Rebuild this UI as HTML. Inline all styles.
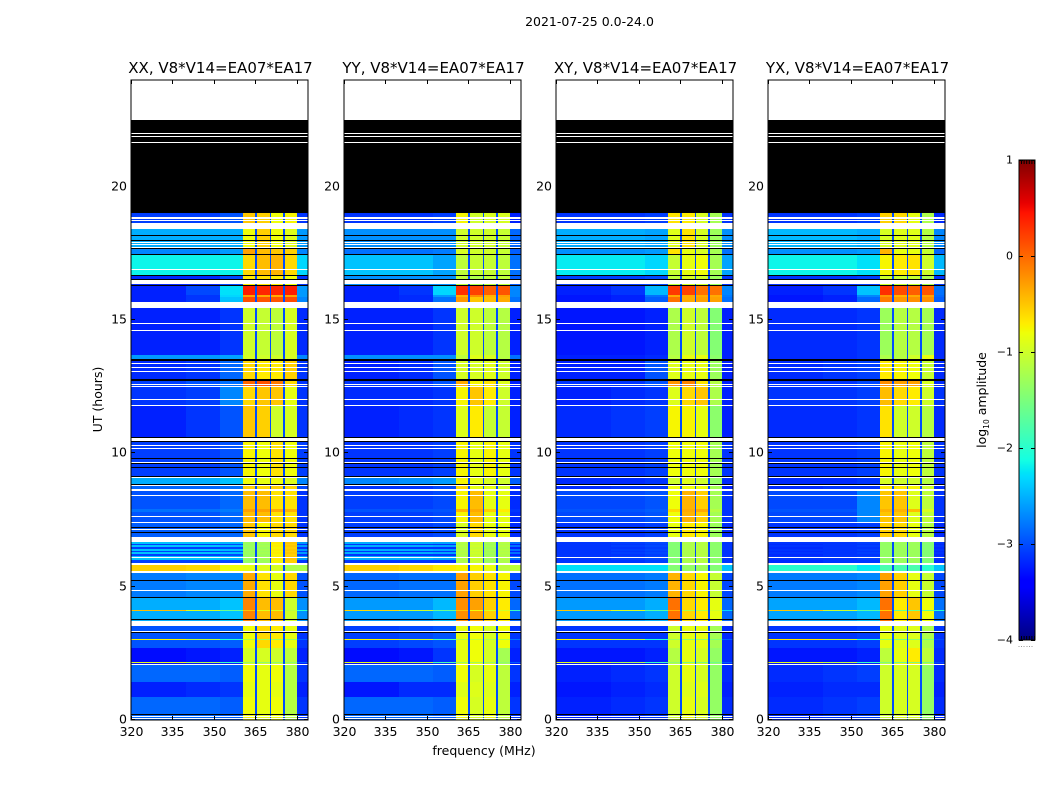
<!DOCTYPE html>
<html lang="en">
<head>
<meta charset="utf-8">
<title>2021-07-25 dynamic spectra</title>
<style>
html,body{margin:0;padding:0;background:#fff;}
#chart{display:block;width:1050px;height:800px;font-family:"DejaVu Sans","Liberation Sans",sans-serif;fill:#000;}
</style>
</head>
<body>
<svg id="chart" xmlns="http://www.w3.org/2000/svg" width="1050" height="800" viewBox="0 0 1050 800">
  <rect width="1050" height="800" fill="#fff"/>
  <text x="589.5" y="26" font-size="12.5" text-anchor="middle">2021-07-25 0.0-24.0</text>
  <text x="484" y="755" font-size="12.5" text-anchor="middle">frequency (MHz)</text>
  <text transform="translate(102,399.5) rotate(-90)" font-size="12.5" text-anchor="middle">UT (hours)</text>
  <g id="panels"></g>
  <g id="colorbar"></g>
  <text transform="translate(986,400) rotate(-90)" font-size="12.5" text-anchor="middle">log<tspan font-size="7.5" dy="3">10</tspan><tspan dy="-3"> amplitude</tspan></text>
</svg>
<script>
// ---- Data (log10 amplitude, hours, MHz) ----
const panelTitles = ['XX, V8*V14=EA07*EA17','YY, V8*V14=EA07*EA17','XY, V8*V14=EA07*EA17','YX, V8*V14=EA07*EA17'];
const xTickLabels = [320,335,350,365,380];
const yTickLabels = [0,5,10,15,20];
const colorbarTicks = [1,0,-1,-2,-3,-4];
const freqEdges = [320,340,352,360.5,364.8,365.4,370.1,370.7,375,375.6,380,384];
const gapLevel = -3;
const backgroundBias = -0.12;
const rowTopHours = [24,22.5,22.01,21.975,21.9,21.86,21.675,21.64,19.01,18.86,18.79,18.75,18.71,18.64,18.41,18.19,18.15,18,17.96,17.925,17.89,17.85,17.81,17.74,17.7,17.66,17.475,17.44,16.91,16.875,16.69,16.65,16.54,16.5,16.35,16.31,16.275,15.94,15.86,15.675,15.45,14.89,14.85,14.625,14.59,13.69,13.54,13.46,13.39,13.35,13.24,13.2,13.09,13.05,12.79,12.71,12.6,12.56,12.525,12.49,12.04,12,11.81,11.775,10.61,10.575,10.46,10.425,10.31,10.275,10.2,10.16,9.825,9.79,9.675,9.64,9.6,9.49,9.45,9.15,9.11,9.075,8.85,8.81,8.775,8.66,8.59,8.44,8.4,7.91,7.8,7.65,7.61,7.425,7.39,7.24,7.2,7.16,7.125,7.05,7.01,6.86,6.675,6.6,6.56,6.49,6.41,6.34,6.3,6.225,6.15,6.11,6.075,6,5.89,5.81,5.59,5.51,5.25,5.21,4.875,4.84,4.61,4.575,4.125,4.09,3.79,3.75,3.71,3.525,3.34,3.3,3.26,3.04,3,2.7,2.175,2.14,2.1,2.06,1.425,0.86,0.225,0.19,0.15,0.11,0.075,0.04];
const rowClasses = ['W','K','W','K','W','K','W','K','a','W','a','W','a','W','b','K','b','K','b','W','b','W','b','W','K','c','K','d','W','d','K','e','K','W','e','K','f1','f2','f3','W','g','W','g','W','g','h','K','i','W','i','W','i','W','i','K','j','W','j','W','k','W','k','W','m','K','W','K','n','W','n','W','n','K','n','W','K','n','K','n','K','W','o','K','W','p','W','q','W','q','q2','q','W','q','W','r','K','r','W','r','K','r','W','s1','s2','s1','s2','s1','s2','s1','s2','s1','W','s1','s2','W','t','W','u','K','u','W','u','K','v','hot','v','K','v','W','x','W','K','x','hot2','x','y','hot3','y','W','z1','z2','z1','K','z1','W','z1','W','z1'];
// each class: [bg 320-340, bg 340-352, bg 352-360, block A, block B, block C, block D, bg 380-384]
const levelsXX = {a:[-2.95,-2.95,-2.85,-0.5,-0.55,-0.8,-0.75,-3],b:[-2.4,-2.4,-2.4,-0.8,-0.55,-0.8,-0.9,-2.5],c:[-2.6,-2.6,-2.5,-0.3,-0.45,-0.5,-0.55,-2.6],d:[-2.05,-2.05,-2.05,-0.6,-0.45,-0.4,-0.6,-2.2],e:[-3.05,-3.05,-2.9,-0.7,-0.65,-0.7,-0.8,-3],f1:[-3.1,-2.9,-2.15,0.4,0.35,0.35,0.4,-2.5],f2:[-3.1,-3,-2.2,-0.3,-0.35,-0.35,-0.3,-2.5],f3:[-3.1,-3,-2.3,0.15,0.1,0.1,0.15,-2.6],g:[-3.1,-3.1,-3,-1,-1.05,-1.1,-0.95,-3.05],h:[-2.5,-2.5,-2.45,-0.95,-1,-1,-0.95,-2.6],i:[-3.05,-3,-2.75,-0.6,-0.7,-0.7,-0.55,-3],j:[-2.95,-2.85,-2.7,0,0.1,-0.1,-0.6,-3],k:[-3,-2.95,-2.6,-0.6,-0.5,-0.5,-0.85,-3],m:[-3.1,-3,-2.85,-0.5,-0.55,-1,-0.95,-3],n:[-2.95,-2.95,-2.85,-0.75,-0.8,-0.65,-0.8,-2.95],o:[-2.4,-2.4,-2.3,-0.8,-0.85,-0.8,-0.9,-2.6],p:[-2.75,-2.75,-2.7,-0.55,-0.6,-0.55,-0.6,-2.9],q:[-2.85,-2.85,-2.75,-0.45,-0.45,-0.65,-0.65,-3],q2:[-2.7,-2.7,-2.65,-0.3,-0.3,-0.35,-0.4,-3],r:[-2.8,-2.8,-2.75,-0.5,-0.75,-0.6,-0.6,-3],s1:[-2.3,-2.3,-2.35,-1.3,-1.25,-0.7,-0.5,-2.5],s2:[-2.95,-2.95,-2.9,-1.35,-1.3,-0.75,-0.55,-3],t:[-0.55,-0.6,-0.8,-0.85,-0.9,-0.95,-1.2,-1.2],u:[-2.65,-2.6,-2.6,-0.35,-0.65,-0.85,-0.6,-2.85],v:[-2.4,-2.4,-2.3,-0.15,-0.45,-0.45,-1,-2.55],hot:[-0.45,-0.9,-1.6,-0.5,-0.9,-0.9,-1.1,-2],x:[-2.85,-2.85,-2.8,-0.8,-0.6,-0.7,-0.85,-3],hot2:[-0.75,-1.1,-2,-1.2,-1.3,-1.3,-1.3,-2.8],y:[-3.2,-3.15,-3.1,-0.95,-0.95,-1,-1.1,-3.1],hot3:[-0.9,-1.2,-1.9,-1.3,-1.4,-1.4,-1.4,-2.8],z1:[-2.75,-2.75,-2.8,-0.8,-0.85,-0.8,-1.15,-3],z2:[-3.1,-3.05,-3,-0.85,-0.85,-0.85,-1.15,-3.1]};
const levelsYY = {a:[-3,-3,-2.95,-0.75,-1,-0.95,-0.95,-3.1],b:[-2.55,-2.55,-2.55,-1,-1,-1,-1.05,-2.75],c:[-2.7,-2.7,-2.65,-0.95,-1,-1,-1.05,-2.8],d:[-2.3,-2.3,-2.45,-1.1,-1.05,-1.05,-1.1,-2.7],e:[-2.55,-2.55,-2.55,-1.1,-1.2,-1.1,-1.1,-2.8],f1:[-3.1,-3,-2.2,0.3,0.2,0.05,0.1,-2.6],f2:[-3.1,-3.05,-2.5,-0.4,-0.2,-0.4,-0.3,-2.6],f3:[-3.1,-3.05,-2.7,-0.25,-0.5,-0.45,-0.35,-2.7],g:[-3.1,-3.1,-3,-1,-1,-1.1,-1.15,-3.1],h:[-2.55,-2.55,-2.55,-1.1,-0.9,-0.95,-1.15,-2.7],i:[-3.1,-3.05,-2.85,-0.95,-0.95,-0.9,-1,-3.1],j:[-3,-3,-2.85,-0.35,-0.75,-0.65,-0.9,-3.1],k:[-3.05,-3.05,-3,-0.75,-0.5,-0.7,-1,-3.1],m:[-3.1,-3.05,-3,-0.9,-0.7,-1.05,-1.05,-3.1],n:[-3,-3,-2.95,-0.75,-0.85,-0.75,-0.85,-3],o:[-2.6,-2.55,-2.5,-0.75,-0.85,-0.95,-1,-2.8],p:[-3,-3,-2.9,-0.6,-0.85,-0.85,-0.95,-3.1],q:[-2.95,-2.95,-2.9,-0.75,-0.45,-0.85,-0.85,-3.05],q2:[-2.85,-2.85,-2.85,-0.4,-0.35,-0.55,-0.7,-3],r:[-2.95,-2.95,-2.9,-0.95,-0.6,-0.85,-0.85,-3.05],s1:[-2.4,-2.4,-2.45,-1.15,-1,-1.25,-1.15,-2.7],s2:[-3,-3,-3,-1.2,-1.05,-1.3,-1.2,-3.1],t:[-0.55,-0.6,-0.7,-0.75,-0.75,-0.85,-1.1,-1.1],u:[-2.75,-2.7,-2.7,-0.3,-0.55,-0.65,-0.75,-2.9],v:[-2.5,-2.5,-2.35,-0.2,-0.3,-0.55,-0.7,-2.75],hot:[-0.6,-1,-1.6,-0.5,-0.8,-0.9,-1,-1.9],x:[-2.95,-2.9,-2.85,-0.85,-0.8,-0.95,-0.8,-3],hot2:[-0.75,-1,-1.8,-1.2,-1.1,-1.2,-1.2,-2.7],y:[-3.2,-3.15,-3,-0.85,-0.8,-0.95,-1.25,-3.1],hot3:[-0.9,-1.1,-1.8,-1.3,-1.3,-1.3,-1.4,-2.8],z1:[-2.75,-2.75,-2.8,-0.8,-0.95,-0.85,-1.1,-3],z2:[-3.15,-3.05,-3.05,-0.9,-0.9,-0.9,-1.1,-3.1]};
const levelsXY = {a:[-3,-3,-2.95,-0.65,-0.7,-0.95,-1.25,-3],b:[-2.4,-2.4,-2.45,-0.9,-0.65,-0.95,-1.3,-2.55],c:[-2.55,-2.55,-2.5,-0.65,-0.85,-0.95,-1.25,-2.7],d:[-2.1,-2.1,-2.2,-1.05,-0.85,-0.8,-1.25,-2.45],e:[-2.95,-2.95,-2.9,-1.1,-0.95,-1,-1.3,-3],f1:[-3.1,-3,-2.35,0.25,0.2,-0.05,-0.05,-2.6],f2:[-3.15,-3.1,-2.7,-0.35,-0.35,-0.35,-0.35,-2.65],f3:[-3.15,-3.1,-2.8,-0.05,-0.35,-0.3,-0.3,-2.7],g:[-3.15,-3.15,-3.1,-1.2,-1,-1.1,-1.45,-3.1],h:[-3.1,-3.1,-3.05,-1.15,-0.85,-0.85,-1.4,-3.1],i:[-3.1,-3.1,-2.85,-0.9,-0.85,-0.85,-1.3,-3.1],j:[-3,-3,-2.85,-0.25,-0.15,-0.65,-1.15,-3.1],k:[-3.1,-3.05,-3,-0.9,-0.6,-0.5,-1.2,-3.1],m:[-3.05,-3,-2.95,-0.75,-0.75,-0.85,-1.4,-3.1],n:[-3,-3,-2.95,-0.8,-0.8,-0.8,-1.25,-3],o:[-3.05,-3.05,-3,-1,-0.9,-1,-1.35,-3.05],p:[-3.05,-3,-3,-0.8,-0.8,-0.8,-1.25,-3.1],q:[-2.9,-2.9,-2.85,-0.8,-0.4,-0.55,-1.25,-3],q2:[-2.85,-2.85,-2.8,-0.6,-0.35,-0.35,-1.15,-3],r:[-3,-3,-2.95,-0.85,-0.7,-0.75,-1.3,-3.05],s1:[-3,-2.95,-2.9,-1.45,-1.2,-1.15,-1.4,-3],s2:[-3,-3,-2.95,-1.45,-1.2,-1.15,-1.4,-3],t:[-2.15,-2.15,-2.15,-1.45,-1.35,-1.3,-1.45,-2.3],u:[-2.7,-2.7,-2.65,-0.4,-0.6,-0.75,-1.05,-2.9],v:[-2.5,-2.5,-2.4,-0.05,-0.6,-0.7,-0.85,-2.75],hot:[-0.5,-0.9,-1.7,-0.4,-1.2,-1.2,-1,-2.2],x:[-3,-3,-3,-1,-0.85,-0.85,-1.25,-3.05],hot2:[-0.75,-1.1,-2,-1.3,-1.4,-1.4,-1.5,-2.8],y:[-3.15,-3.15,-3.1,-1.15,-0.85,-0.95,-1.35,-3.05],hot3:[-0.9,-1.2,-1.9,-1.4,-1.5,-1.5,-1.6,-2.8],z1:[-3.1,-3.05,-3,-1,-0.85,-0.95,-1.35,-3.05],z2:[-3.15,-3.1,-3.05,-1,-0.9,-0.9,-1.35,-3.1]};
const levelsYX = {a:[-3,-3,-2.95,-0.55,-0.6,-0.85,-1.2,-3.05],b:[-2.35,-2.35,-2.4,-0.95,-0.9,-0.9,-1.15,-2.6],c:[-2.55,-2.55,-2.5,-0.4,-0.85,-0.85,-1.05,-2.75],d:[-2.05,-2.05,-2.15,-0.75,-0.7,-0.65,-1,-2.35],e:[-3,-3,-2.95,-1,-1.05,-1.05,-1.2,-3],f1:[-3.1,-3,-2.3,0.3,0.15,0.05,0.1,-2.7],f2:[-3.15,-3.1,-2.6,-0.25,-0.4,-0.35,-0.3,-2.75],f3:[-3.15,-3.1,-2.75,-0.1,-0.25,-0.2,-0.2,-2.8],g:[-3.05,-3.05,-3,-1.3,-1.15,-1.15,-1.25,-3.05],h:[-3.05,-3.05,-3,-1.2,-1.15,-1,-0.85,-3.05],i:[-3.05,-3,-2.95,-0.7,-0.75,-0.8,-1.05,-3.05],j:[-3,-3,-2.9,-0.2,-0.3,-0.3,-0.95,-3.05],k:[-3,-3,-2.95,-0.45,-0.6,-0.7,-1,-3],m:[-3.05,-3.05,-3,-0.65,-1,-1,-1.15,-3.05],n:[-3,-3,-2.95,-0.75,-0.85,-0.8,-1.1,-3],o:[-3.05,-3.05,-3,-0.95,-1,-1,-1.15,-3.05],p:[-3.05,-3,-3,-0.7,-0.7,-0.75,-1,-3.05],q:[-2.9,-2.9,-2.6,-0.5,-0.5,-0.9,-1.1,-3],q2:[-2.85,-2.85,-2.6,-0.4,-0.4,-0.45,-0.95,-3],r:[-3,-3,-2.95,-0.55,-0.6,-0.85,-1.15,-3.05],s1:[-3,-3,-2.95,-1.35,-1.3,-1.3,-1.45,-3],s2:[-3.05,-3,-3,-1.35,-1.3,-1.3,-1.45,-3.05],t:[-2,-2,-2.1,-1.8,-1.8,-1.8,-2,-2.3],u:[-2.65,-2.65,-2.6,-0.3,-0.55,-0.85,-1.05,-2.9],v:[-2.45,-2.45,-2.35,-0.05,-0.7,-0.5,-0.8,-2.7],hot:[-0.5,-1,-1.7,-0.55,-1.6,-1.6,-1.7,-2],x:[-3,-3,-2.95,-0.85,-0.9,-0.9,-1.2,-3],hot2:[-0.7,-1,-2,-1.4,-1.5,-1.4,-1.5,-2.9],y:[-3.15,-3.15,-3.1,-1.1,-0.85,-0.7,-1.1,-3.05],hot3:[-0.9,-1.1,-1.9,-1.5,-1.6,-1.5,-1.5,-2.9],z1:[-3.05,-3,-2.95,-1,-0.95,-0.95,-1.35,-3.05],z2:[-3.1,-3.05,-3.05,-1,-0.95,-0.95,-1.35,-3.1]};
const panelLevels = [levelsXX,levelsYY,levelsXY,levelsYX];

// ---- Axis functions ----
const SVG_NS = 'http://www.w3.org/2000/svg';
const panelLefts = [131,344,556,768];
const plotTop = 80, plotBottom = 720, plotWidth = 177;
const xScale = (mhz, left) => left + (mhz - 320) / 64 * plotWidth;
const yScale = (hours) => plotBottom - hours / 24 * (plotBottom - plotTop);
const levelScale = (level) => 640 - (level + 4) / 5 * 480;

function jetChannel(v, pts) {
  for (let i = 1; i < pts.length; i++) {
    if (v <= pts[i][0]) {
      const a = pts[i - 1], b = pts[i];
      return a[1] + (b[1] - a[1]) * (v - a[0]) / (b[0] - a[0]);
    }
  }
  return pts[pts.length - 1][1];
}
function jet(level) {
  const v = Math.max(0, Math.min(1, (level + 4) / 5));
  const r = jetChannel(v, [[0,0],[0.35,0],[0.66,1],[0.89,1],[1,0.5]]);
  const g = jetChannel(v, [[0,0],[0.125,0],[0.375,1],[0.64,1],[0.91,0],[1,0]]);
  const b = jetChannel(v, [[0,0.5],[0.11,1],[0.34,1],[0.65,0],[1,0]]);
  return 'rgb(' + Math.round(r * 255) + ',' + Math.round(g * 255) + ',' + Math.round(b * 255) + ')';
}
function make(tag, parent) {
  const el = document.createElementNS(SVG_NS, tag);
  parent.appendChild(el);
  return el;
}
function addRect(parent, x, y, w, h, fill) {
  const r = make('rect', parent);
  r.setAttribute('x', x);
  r.setAttribute('y', y);
  r.setAttribute('width', w);
  r.setAttribute('height', h);
  r.setAttribute('fill', fill);
  r.setAttribute('shape-rendering', 'crispEdges');
  return r;
}
function addLine(parent, x1, y1, x2, y2) {
  const l = make('line', parent);
  l.setAttribute('x1', x1);
  l.setAttribute('y1', y1);
  l.setAttribute('x2', x2);
  l.setAttribute('y2', y2);
  l.setAttribute('stroke', '#000');
  l.setAttribute('stroke-width', '1');
  return l;
}
function addText(parent, x, y, str, size, anchor) {
  const t = make('text', parent);
  t.setAttribute('x', x);
  t.setAttribute('y', y);
  t.setAttribute('font-size', size);
  t.setAttribute('text-anchor', anchor);
  t.textContent = str;
  return t;
}
const fmt = (n) => String(n).replace('-', '\u2212');

// ---- Panels ----
const panelsRoot = document.getElementById('panels');
const columnSource = [0,1,2,3,-1,4,-1,5,-1,6,7];
panelTitles.forEach(function (title, p) {
  const left = panelLefts[p];
  const levels = panelLevels[p];
  const g = make('g', panelsRoot);
  
  

  const image = make('g', g);
  
  
  const x0 = Math.round(xScale(freqEdges[0], left));
  const x1 = Math.round(xScale(freqEdges[freqEdges.length - 1], left));
  rowClasses.forEach(function (cls, i) {
    const top = Math.round(yScale(rowTopHours[i]));
    const nextHours = i + 1 < rowTopHours.length ? rowTopHours[i + 1] : 0;
    const bottom = Math.round(yScale(nextHours));
    const h = bottom - top;
    if (h <= 0) return;
    if (cls === 'W') return;
    if (cls === 'K') {
      const flagged = addRect(image, x0, top, x1 - x0, h, '#000');
      
      
      return;
    }
    columnSource.forEach(function (src, c) {
      const a = Math.round(xScale(freqEdges[c], left));
      const b = Math.round(xScale(freqEdges[c + 1], left));
      let level = src < 0 ? gapLevel : levels[cls][src];
      if (src >= 0 && (src < 3 || src === 7) && level < -2) level += backgroundBias;
      const cell = addRect(image, a, top, Math.max(1, b - a), h, jet(level));
      
      
    });
  });

  const frame = make('rect', g);
  frame.setAttribute('x', left);
  frame.setAttribute('y', plotTop);
  frame.setAttribute('width', plotWidth);
  frame.setAttribute('height', plotBottom - plotTop);
  frame.setAttribute('fill', 'none');
  frame.setAttribute('stroke', '#000');
  frame.setAttribute('stroke-width', '1');
  
  

  const titleEl = addText(g, left + plotWidth / 2 + 1, 73, title, 15, 'middle');
  
  

  xTickLabels.forEach(function (v) {
    const x = Math.round(xScale(v, left)) + 0.5;
    const tickTop = addLine(g, x, plotTop, x, plotTop + 4);
    
    
    const tickBottom = addLine(g, x, plotBottom, x, plotBottom - 4);
    
    
    const label = addText(g, x, 736, fmt(v), 12.5, 'middle');
    
    
  });
  yTickLabels.forEach(function (v) {
    const y = Math.round(yScale(v)) - 0.5;
    const tickLeft = addLine(g, left, y, left + 4, y);
    
    
    const tickRight = addLine(g, left + plotWidth, y, left + plotWidth - 4, y);
    
    
    const label = addText(g, left - 4, y + 4, fmt(v), 12.5, 'end');
    
    
  });
});

// ---- Colorbar ----
const cb = document.getElementById('colorbar');
const cbLeft = 1019, cbWidth = 16;
for (let py = 160; py < 640; py++) {
  const level = 1 - (py + 0.5 - 160) / 480 * 5;
  const strip = addRect(cb, cbLeft, py, cbWidth, 1, jet(level));
  
  
}
const cbFrame = make('rect', cb);
cbFrame.setAttribute('x', cbLeft);
cbFrame.setAttribute('y', 160);
cbFrame.setAttribute('width', cbWidth);
cbFrame.setAttribute('height', 480);
cbFrame.setAttribute('fill', 'none');
cbFrame.setAttribute('stroke', '#000');
cbFrame.setAttribute('stroke-width', '1');


colorbarTicks.forEach(function (v) {
  const y = Math.round(levelScale(v)) + 0.5;
  const tl = addLine(cb, cbLeft, y, cbLeft + 4, y);
  
  
  const tr = addLine(cb, cbLeft + cbWidth, y, cbLeft + cbWidth - 4, y);
  
  
  const label = addText(cb, 1013, y + 3, fmt(v), 11, 'end');
  
  
});
for (let i = 0; i < 6; i++) {
  const x = cbLeft + 2.5 + i * 2.6;
  const topMark = addLine(cb, x, 160, x, 164);
  
  
  const botMark = addLine(cb, x, 640, x, 636);
  
  
  const dot = addRect(cb, x - 3, 646, 1, 1, '#999');
  
  
}
</script>
</body>
</html>
